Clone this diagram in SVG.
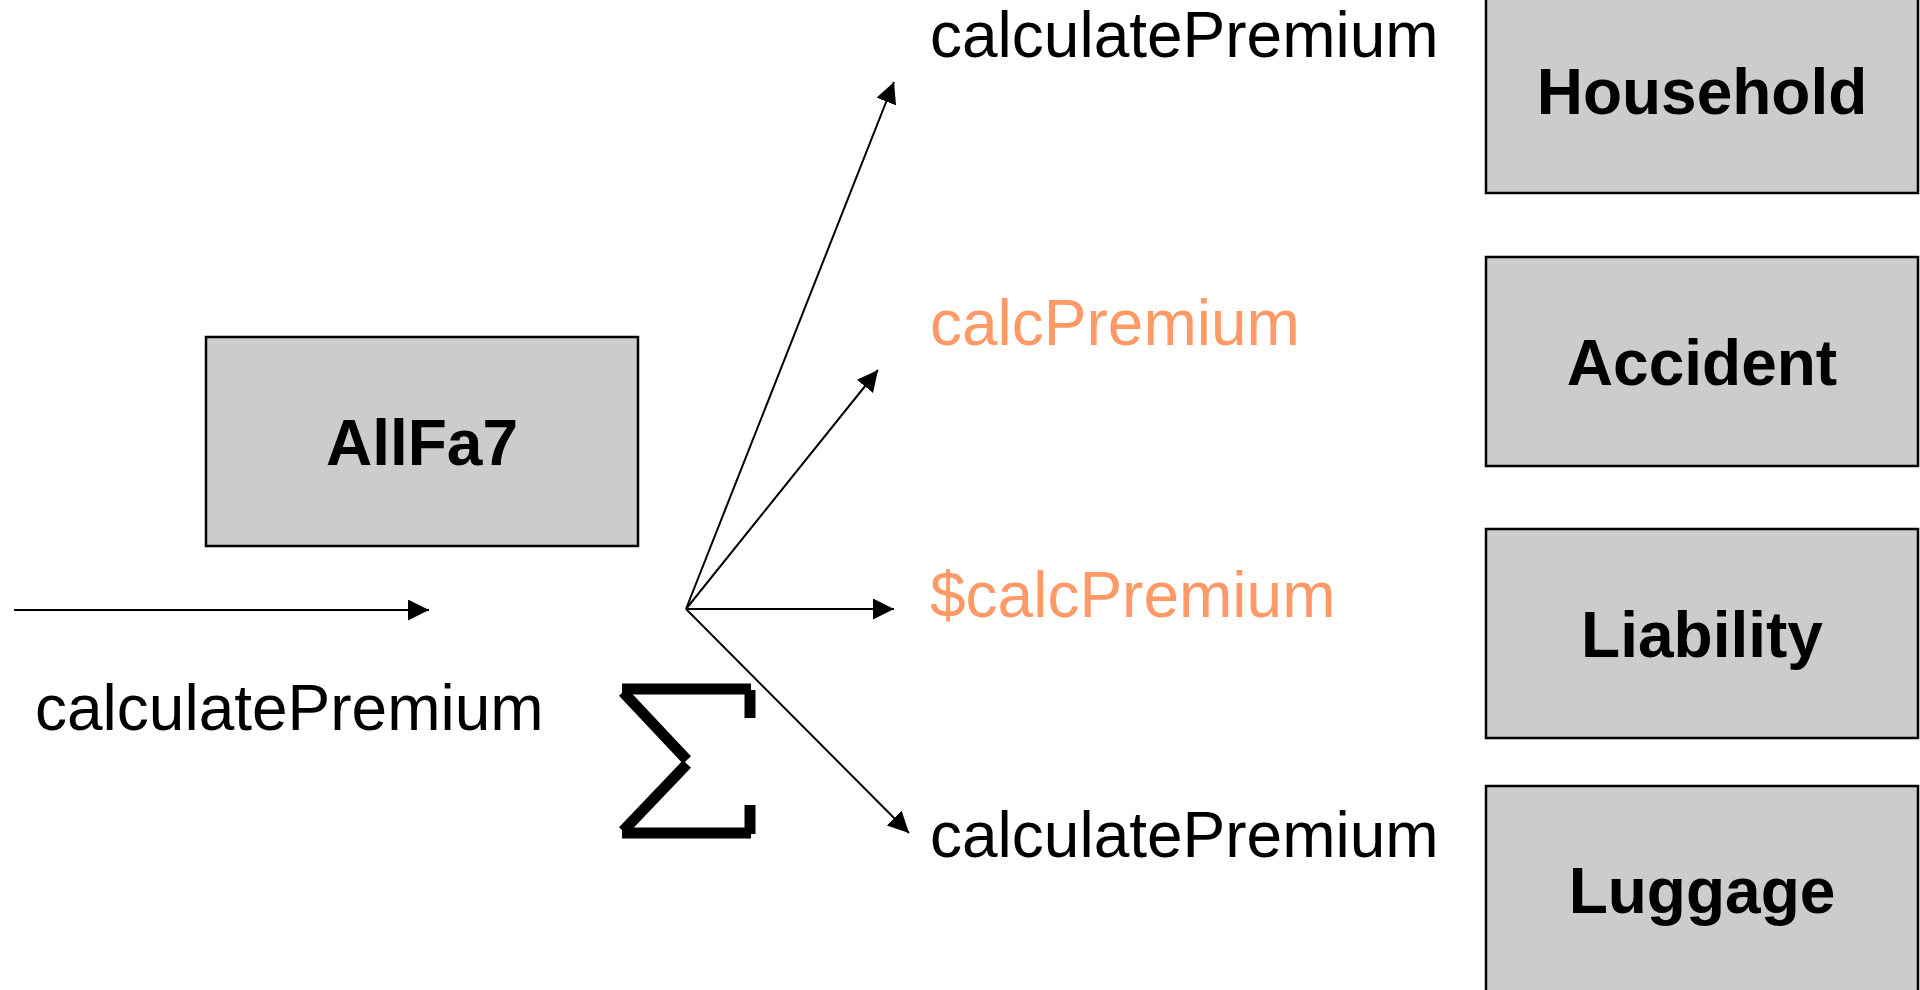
<svg xmlns="http://www.w3.org/2000/svg" width="1920" height="990" viewBox="0 0 1920 990">
  <style>
    .box { fill: #cccccc; stroke: #000; stroke-width: 2.5; }
    .title { font-family: "Liberation Sans", Arial, sans-serif; font-weight: bold; font-size: 64px; fill: #000; text-anchor: middle; }
    .msg { font-family: "Liberation Sans", Arial, sans-serif; font-size: 64px; fill: #000; }
    .alt { fill: #ff9966; }
    .edge { stroke: #000; stroke-width: 2; fill: none; marker-end: url(#arrow); }
    .sigma { stroke: #000; stroke-width: 11; fill: none; stroke-linecap: butt; }
  </style>
  <defs>
    <marker id="arrow" markerUnits="userSpaceOnUse" markerWidth="22" markerHeight="22" refX="21" refY="10.5" orient="auto">
      <path d="M0,0 L21,10.5 L0,21 z" fill="#000"/>
    </marker>
  </defs>
  <rect width="1920" height="990" fill="#fff"/>

  <g id="allfa7">
    <rect class="box" x="206" y="337" width="432" height="209"/>
    <text class="title" x="422" y="465">AllFa7</text>
  </g>

  <g id="household">
    <rect class="box" x="1486" y="-16" width="432" height="209"/>
    <text class="title" x="1702" y="114">Household</text>
  </g>
  <g id="accident">
    <rect class="box" x="1486" y="257" width="432" height="209"/>
    <text class="title" x="1702" y="385">Accident</text>
  </g>
  <g id="liability">
    <rect class="box" x="1486" y="529" width="432" height="209"/>
    <text class="title" x="1702" y="657">Liability</text>
  </g>
  <g id="luggage">
    <rect class="box" x="1486" y="786" width="432" height="220"/>
    <text class="title" x="1702" y="913">Luggage</text>
  </g>

  <g id="connectors">
    <line class="edge" x1="14" y1="610" x2="429" y2="610"/>
    <line class="edge" x1="686" y1="609" x2="894" y2="82"/>
    <line class="edge" x1="686" y1="609" x2="878" y2="370"/>
    <line class="edge" x1="686" y1="609" x2="894" y2="609"/>
    <line class="edge" x1="686" y1="609" x2="909" y2="833"/>
  </g>

  <g id="labels">
    <text class="msg" x="35" y="730">calculatePremium</text>
    <text class="msg" x="930" y="57">calculatePremium</text>
    <text class="msg alt" x="930" y="345">calcPremium</text>
    <text class="msg alt" x="930" y="617">$calcPremium</text>
    <text class="msg" x="930" y="857">calculatePremium</text>
  </g>

  <!-- summation sign -->
  <g id="sigma">
    <line class="sigma" x1="622" y1="689" x2="751" y2="689"/>
    <line class="sigma" x1="750" y1="690" x2="750" y2="718"/>
    <polyline class="sigma" points="623,692 687,760"/>
    <polyline class="sigma" points="687,764 623,831"/>
    <line class="sigma" x1="622" y1="833" x2="751" y2="833"/>
    <line class="sigma" x1="750" y1="805" x2="750" y2="834"/>
  </g>
</svg>
